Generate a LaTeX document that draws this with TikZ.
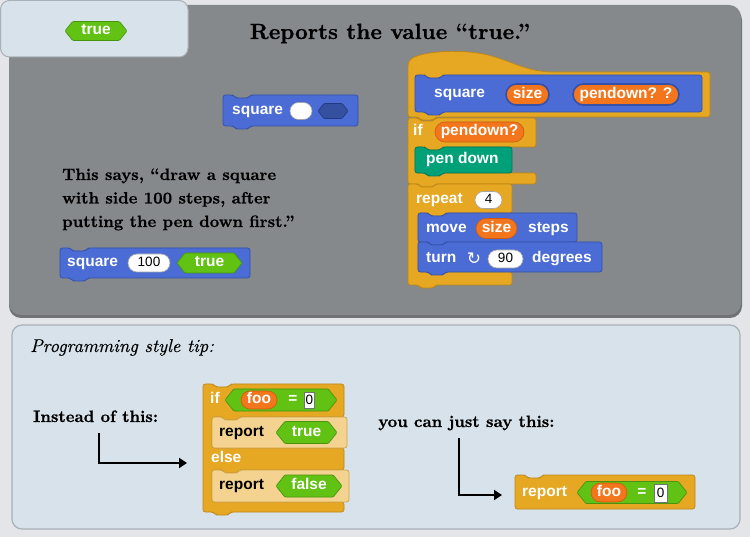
\documentclass[tikz,border=0pt]{standalone}
\usepackage{fontspec}
\newfontfamily\snapfont{Liberation Sans}
\newfontfamily\symfont{DejaVu Sans}
\newfontfamily\heavyserif{lmroman10-bold}[Extension=.otf, FakeBold=0.7]
\newfontfamily\tipserif{lmroman10-italic}[Extension=.otf, FakeBold=0.3]
\usetikzlibrary{shapes.misc,arrows.meta}
\definecolor{pagebg}{HTML}{E4E5E8}
\definecolor{panel}{HTML}{85898C}
\definecolor{panelsh}{HTML}{6F7376}
\definecolor{tab}{HTML}{D8E2EA}
\definecolor{tabedge}{HTML}{A9B0B6}
\definecolor{motion}{HTML}{4A6CD4}
\definecolor{motiondk}{HTML}{3450A8}
\definecolor{ctrl}{HTML}{E6A822}
\definecolor{ctrldk}{HTML}{BE8616}
\definecolor{zebra}{HTML}{F4D390}
\definecolor{zebradk}{HTML}{CFA248}
\definecolor{pen}{HTML}{00A178}
\definecolor{pendk}{HTML}{00795A}
\definecolor{var}{HTML}{F3761D}
\definecolor{vardk}{HTML}{C95A10}
\definecolor{pred}{HTML}{62C213}
\definecolor{preddk}{HTML}{489410}
\definecolor{boolslot}{HTML}{34509F}
\definecolor{boolslotdk}{HTML}{233A80}
% notch on a top edge (going right) and bump on a bottom edge (going left)
\newcommand{\ntop}[2]{-- ({#1+10},#2) -- ({#1+13},{#2+3}) -- ({#1+25},{#2+3}) -- ({#1+28},#2)}
\newcommand{\nbot}[2]{-- ({#1+28},#2) -- ({#1+25},{#2+3}) -- ({#1+13},{#2+3}) -- ({#1+10},#2)}
\newcommand{\hexslot}[6]{%
  \path[#5] (#1,#3) -- ({#1+0.4*#4},{#3-#4/2}) -- ({#2-0.4*#4},{#3-#4/2}) -- (#2,#3)
    -- ({#2-0.4*#4},{#3+#4/2}) -- ({#1+0.4*#4},{#3+#4/2}) -- cycle;
  \coordinate (#6) at ({(#1+#2)/2},#3);}
\tikzset{
  blk/.style={line width=0.7pt, rounded corners=2.5pt},
  motionblk/.style={blk, fill=motion, draw=motiondk},
  ctrlblk/.style={blk, fill=ctrl, draw=ctrldk},
  zebrablk/.style={blk, fill=zebra, draw=zebradk},
  penblk/.style={blk, fill=pen, draw=pendk},
  predblk/.style={fill=pred, draw=preddk, line width=0.7pt, rounded corners=1pt},
  boolblk/.style={fill=boolslot, draw=boolslotdk, line width=0.7pt, rounded corners=1pt},
  btext/.style={font={\snapfont\bfseries\fontsize{15.5}{18}\selectfont}, text=white, inner sep=0pt, text height=10.5pt, text depth=3pt},
  ktext/.style={btext, text=black},
  varpill/.style={rounded rectangle, btext, inner xsep=3pt, fill=var, draw=vardk, line width=0.6pt},
  protopill/.style={varpill, draw=motiondk, line width=1.6pt},
  numslot/.style={rounded rectangle, fill=white, draw=black!35, line width=0.6pt, inner sep=0pt,
     font={\snapfont\fontsize{13.5}{15}\selectfont}, text=black, text height=9.5pt, text depth=2.5pt},
  zerobox/.style={rectangle, fill=white, draw=black!55, line width=0.6pt, inner sep=0pt,
     font={\snapfont\fontsize{13.5}{15}\selectfont}, text=black},
  serifbold/.style={font={\heavyserif\fontsize{16.5}{21}\selectfont}, inner sep=0pt},
  titletext/.style={font={\heavyserif\fontsize{22}{26}\selectfont}, inner sep=0pt},
  tiptext/.style={font={\tipserif\fontsize{18.5}{22}\selectfont}, inner sep=0pt},
  pointer/.style={line width=2.2pt, -{Triangle[length=8pt,width=10pt]}},
}
\begin{document}
\begin{tikzpicture}[x=1pt,y=-1pt]
\useasboundingbox (0,0) rectangle (750,537);
\fill[pagebg] (0,0) rectangle (750,537);
% ---------- top panel ----------
\fill[panelsh, rounded corners=12pt] (9,8) rectangle (742,318);
\fill[panel, rounded corners=12pt] (9,5) rectangle (741,315);
\filldraw[tab, draw=tabedge, line width=1pt, rounded corners=9pt] (0.5,0.5) rectangle (188,57);
\hexslot{65}{127}{31}{19}{predblk}{tabtrue}
\node[btext] (tabtruelbl) at (tabtrue) {true};
\node[titletext, anchor=base] (title) at (390,39) {Reports the value “true.”};

% square block with empty slots
\path[motionblk] (223,95) \ntop{223}{95} -- (358,95) -- (358,126) \nbot{223}{126} -- (223,126) -- cycle;
\coordinate (sqblk) at (290,110);
\node[btext, anchor=west] (sqlbl) at (232,110.5) {square};
\node[numslot, minimum width=22pt, minimum height=17pt] (sqslot) at (301,111) {};
\hexslot{318}{348}{111}{15}{boolblk}{sqbool}

% explanation text
\node[serifbold, anchor=base west] (say1) at (62,180) {This says, “draw a square};
\node[serifbold, anchor=base west] (say2) at (62,203.5) {with side 100 steps, after};
\node[serifbold, anchor=base west] (say3) at (62,227) {putting the pen down first.”};

% square 100 true
\path[motionblk] (60,248) \ntop{60}{248} -- (250,248) -- (250,278) \nbot{60}{278} -- (60,278) -- cycle;
\coordinate (sq2blk) at (155,263);
\node[btext, anchor=west] (sq2lbl) at (67,263) {square};
\node[numslot, minimum width=42pt, minimum height=18pt] (sq2num) at (149,263) {100};
\hexslot{177}{242}{263}{20}{predblk}{sq2true}
\node[btext] (sq2truelbl) at (sq2true) {true};

% ---------- block definition ----------
% if block
\path[ctrlblk] (408,118) \ntop{408}{118} -- (536,118) -- (536,147) \nbot{415}{147} -- (415,147)
   -- (415,173) -- (536,173) -- (536,184) \nbot{408}{184} -- (408,184) -- cycle;
% hat
\path[ctrlblk] (408,100) -- (408,64) .. controls (412,54) and (440,50) .. (468,52)
   .. controls (505,55) and (520,72) .. (556,72) -- (710,72) -- (710,117) \nbot{408}{117} -- (408,117) -- cycle;
% prototype
\path[motionblk] (415,75) \ntop{415}{75} -- (702,75) -- (702,112) \nbot{415}{112} -- (415,112) -- cycle;
\node[btext, anchor=west] (protolbl) at (434,94) {square};
\node[protopill, minimum width=49pt, minimum height=21pt] (psize) at (527.5,94.5) {size};
\node[protopill, minimum width=112pt, minimum height=21pt] (ppen) at (626,94.5) {pendown? ?};
% if contents
\node[btext, anchor=west] (iflbl) at (413,132) {if};
\node[varpill, minimum width=95pt, minimum height=20pt] (ifpen) at (479.5,132) {pendown?};
\path[penblk] (415,147) \ntop{415}{147} -- (512,147) -- (512,173) \nbot{415}{173} -- (415,173) -- cycle;
\node[btext, anchor=west] (pendownlbl) at (426,160) {pen down};
% repeat
\path[ctrlblk] (408,184) \ntop{408}{184} -- (512,184) -- (512,213) \nbot{418}{213} -- (418,213)
   -- (418,272) -- (512,272) -- (512,285) \nbot{408}{285} -- (408,285) -- cycle;
\node[btext, anchor=west] (replbl) at (416,199.5) {repeat};
\node[numslot, minimum width=27pt, minimum height=17pt] (repnum) at (488.5,200) {4};
% move
\path[motionblk] (418,213) \ntop{418}{213} -- (577,213) -- (577,242) \nbot{418}{242} -- (418,242) -- cycle;
\node[btext, anchor=west] (movelbl) at (426,228.5) {move};
\node[varpill, minimum width=47pt, minimum height=20pt] (movesize) at (496.5,228.5) {size};
\node[btext, anchor=west] (stepslbl) at (528,228.5) {steps};
% turn
\path[motionblk] (418,242) \ntop{418}{242} -- (602,242) -- (602,272) \nbot{418}{272} -- (418,272) -- cycle;
\node[btext, anchor=west] (turnlbl) at (426,258.5) {turn};
\node[text=white, inner sep=0pt, font={\symfont\fontsize{17}{18}\selectfont}] (turnicon) at (474,258.5) {↻};
\node[numslot, minimum width=35pt, minimum height=18pt] (turnnum) at (505.5,259) {90};
\node[btext, anchor=west] (deglbl) at (532,258.5) {degrees};

% ---------- bottom panel ----------
\filldraw[tab, draw=tabedge, line width=1.2pt, rounded corners=10pt] (12,325) rectangle (740,529);
\node[tiptext, anchor=base west] (tip) at (30,352) {Programming style tip:};
\node[serifbold, anchor=base west] (instead) at (33,422) {Instead of this:};
\node[serifbold, anchor=base west] (justsay) at (378,427) {you can just say this:};

% if-else block
\path[ctrlblk] (203,384) \ntop{203}{384} -- (344,384) -- (344,417) \nbot{212}{417} -- (212,417)
   -- (212,448) -- (344,448) -- (344,470) \nbot{212}{470} -- (212,470)
   -- (212,502) -- (344,502) -- (344,512) \nbot{203}{512} -- (203,512) -- cycle;
\coordinate (ifelse) at (273,448);
\node[btext, anchor=west] (if2lbl) at (210,400) {if};
\hexslot{225}{337}{400}{22}{predblk}{eq1}
\node[varpill, minimum width=42pt, minimum height=18pt] (foo1) at (259,400) {foo};
\node[btext] (eq1lbl) at (293,400) {=};
\node[zerobox, minimum width=10pt, minimum height=16pt] (zero1) at (309.5,400) {0};
\path[zebrablk] (212,417) \ntop{212}{417} -- (347,417) -- (347,448) -- (212,448) -- cycle;
\node[ktext, anchor=west] (rep1lbl) at (219,432.5) {report};
\hexslot{276}{337}{432.5}{22}{predblk}{truehex}
\node[btext] (truelbl) at (truehex) {true};
\node[btext, anchor=west] (elselbl) at (211,459) {else};
\path[zebrablk] (212,470) \ntop{212}{470} -- (349,470) -- (349,502) -- (212,502) -- cycle;
\node[ktext, anchor=west] (rep2lbl) at (219,486) {report};
\hexslot{276}{342}{486}{22}{predblk}{falsehex}
\node[btext] (falselbl) at (falsehex) {false};

% standalone report block
\path[ctrlblk] (515,475) \ntop{515}{475} -- (695,475) -- (695,509) -- (515,509) -- cycle;
\coordinate (report) at (515,492);
\node[btext, anchor=west] (rep3lbl) at (522,492.5) {report};
\hexslot{577}{687}{492.5}{22}{predblk}{eq2}
\node[varpill, minimum width=42pt, minimum height=19pt] (foo2) at (609,492.5) {foo};
\node[btext] (eq2lbl) at (642,492.5) {=};
\node[zerobox, minimum width=13pt, minimum height=18pt] (zero2) at (660.5,493) {0};

% arrows
\coordinate (a1s) at (99,433);
\coordinate (a1e) at (187,463);
\draw[pointer] (a1s) |- (a1e);
\coordinate (a2s) at (459,438);
\coordinate (a2e) at (502,495);
\draw[pointer] (a2s) |- (a2e);
\end{tikzpicture}
\end{document}
